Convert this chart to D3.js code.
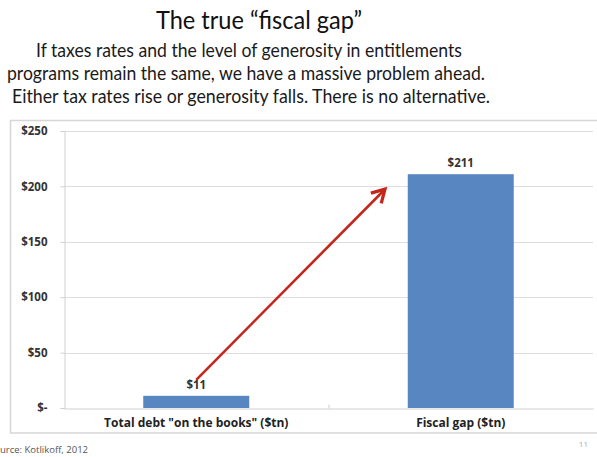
<!DOCTYPE html>
<html>
<head>
<meta charset="utf-8">
<script src="https://cdn.jsdelivr.net/npm/d3@7"></script>
<style>
  body { margin: 0; background: #fff; }
  svg { display: block; font-family: "Open Sans", "Noto Sans", sans-serif; }
</style>
</head>
<body>
<div class="chart"></div>
<script>
var categories = ['Total debt "on the books" ($tn)', "Fiscal gap ($tn)"];
var values = [11, 211];
var valueLabels = ["$11", "$211"];
var yTicks = [0, 50, 100, 150, 200, 250];
var yTickLabels = ["$-", "$50", "$100", "$150", "$200", "$250"];
var title = "The true \u201cfiscal gap\u201d";
var subtitle = [
  "If taxes rates and the level of generosity in entitlements",
  "programs remain the same, we have a massive problem ahead.",
  "Either tax rates rise or generosity falls. There is no alternative."
];
var source = "urce: Kotlikoff, 2012";
var pageNo = "11";

var W = 597, H = 457;
var svg = d3.select(".chart").append("svg").attr("width", W).attr("height", H);

// heading
svg.append("text")
    .attr("x", 259).attr("y", 29)
    .attr("text-anchor", "middle")
    .style("font-family", "Lato, sans-serif")
    .style("font-size", "25px").style("fill", "#111")
    .attr("textLength", 206).attr("lengthAdjust", "spacingAndGlyphs")
    .text(title);

var subPos = [{x: 36, y: 57, w: 426}, {x: 7, y: 80, w: 478}, {x: 12, y: 103, w: 478}];
svg.selectAll(".sub")
  .data(subtitle)
  .enter().append("text")
    .attr("class", "sub")
    .attr("x", function(d, i) { return subPos[i].x; })
    .attr("y", function(d, i) { return subPos[i].y; })
    .attr("textLength", function(d, i) { return subPos[i].w; })
    .attr("lengthAdjust", "spacingAndGlyphs")
    .style("font-family", "Lato, sans-serif")
    .style("font-size", "19px").style("fill", "#1a1a1a")
    .text(function(d) { return d; });

// chart frame
svg.append("rect")
    .attr("x", 10.5).attr("y", 120.5)
    .attr("width", 600).attr("height", 312.5)
    .attr("fill", "none").attr("stroke", "#d6d6d6").attr("stroke-width", 1.5);

var margin = {left: 64, right: 593, top: 131, bottom: 408};

var x = d3.scaleBand().domain(categories).range([margin.left, margin.right]).paddingInner(0).paddingOuter(0);
var y = d3.scaleLinear().domain([0, 250]).range([margin.bottom, margin.top]);

var g = svg.append("g");

// gridlines
g.selectAll(".grid")
  .data(yTicks.slice(1))
  .enter().append("line")
    .attr("class", "grid")
    .attr("x1", margin.left).attr("x2", margin.right)
    .attr("y1", function(d) { return Math.round(y(d)) + 0.5; })
    .attr("y2", function(d) { return Math.round(y(d)) + 0.5; })
    .attr("stroke", "#dedede");

// y axis
var yAxis = g.append("g")
    .attr("class", "axis axis-y")
    .attr("transform", "translate(" + (margin.left + 0.5) + ",0)")
    .call(d3.axisLeft(y).tickValues(yTicks).tickSize(4).tickPadding(13)
      .tickFormat(function(d, i) { return yTickLabels[i]; }));
yAxis.select(".domain").attr("stroke", "#d0d0d0");
yAxis.selectAll(".tick line").attr("stroke", "#d0d0d0");
yAxis.selectAll(".tick text")
    .style("font-size", "11.5px").style("font-weight", "bold").style("fill", "#333")
    .style("font-family", "'Open Sans', sans-serif");

// bars
var bw = 106;
g.selectAll(".bar")
  .data(values)
  .enter().append("rect")
    .attr("class", "bar")
    .attr("x", function(d, i) { return x(categories[i]) + x.bandwidth() / 2 - bw / 2; })
    .attr("y", function(d) { return y(d); })
    .attr("width", bw)
    .attr("height", function(d) { return y(0) - y(d); })
    .attr("fill", "#5886c0");

// x axis
var xAxis = g.append("g")
    .attr("class", "axis axis-x")
    .attr("transform", "translate(0," + (margin.bottom + 0.5) + ")")
    .call(d3.axisBottom(x).tickSize(0).tickPadding(10));
xAxis.select(".domain").attr("stroke", "#d0d0d0");
xAxis.selectAll(".tick text")
    .style("font-size", "12px").style("font-weight", "bold").style("fill", "#222")
    .style("font-family", "'Open Sans', sans-serif");
xAxis.append("line")
    .attr("x1", x(categories[1]) + 0.5).attr("x2", x(categories[1]) + 0.5)
    .attr("y1", 0).attr("y2", -4).attr("stroke", "#d0d0d0");

// value labels
g.selectAll(".vlabel")
  .data(values)
  .enter().append("text")
    .attr("class", "vlabel")
    .attr("x", function(d, i) { return x(categories[i]) + x.bandwidth() / 2; })
    .attr("y", function(d) { return y(d) - 7; })
    .attr("text-anchor", "middle")
    .style("font-size", "11.5px").style("font-weight", "bold").style("fill", "#333")
    .text(function(d, i) { return valueLabels[i]; });

// arrow from small bar label to the big bar
svg.append("defs").append("marker")
    .attr("id", "head")
    .attr("viewBox", "0 0 10 10")
    .attr("refX", 8).attr("refY", 5)
    .attr("markerWidth", 7).attr("markerHeight", 7)
    .attr("orient", "auto")
  .append("path")
    .attr("d", "M1,1 L8,5 L1,9")
    .attr("fill", "none").attr("stroke", "#c4261b").attr("stroke-width", 1.8);

svg.append("line")
    .attr("x1", x(categories[0]) + x.bandwidth() / 2).attr("y1", y(values[0]) - 16)
    .attr("x2", 385).attr("y2", y(values[1]) + 15)
    .attr("stroke", "#c4261b").attr("stroke-width", 2.6)
    .attr("marker-end", "url(#head)");

// footer
svg.append("text")
    .attr("x", 0).attr("y", 453)
    .style("font-size", "9.5px").style("fill", "#555")
    .text(source);
svg.append("text")
    .attr("x", 588).attr("y", 447)
    .attr("text-anchor", "end")
    .style("font-size", "8px").style("fill", "#aaa")
    .text(pageNo);
</script>
</body>
</html>
